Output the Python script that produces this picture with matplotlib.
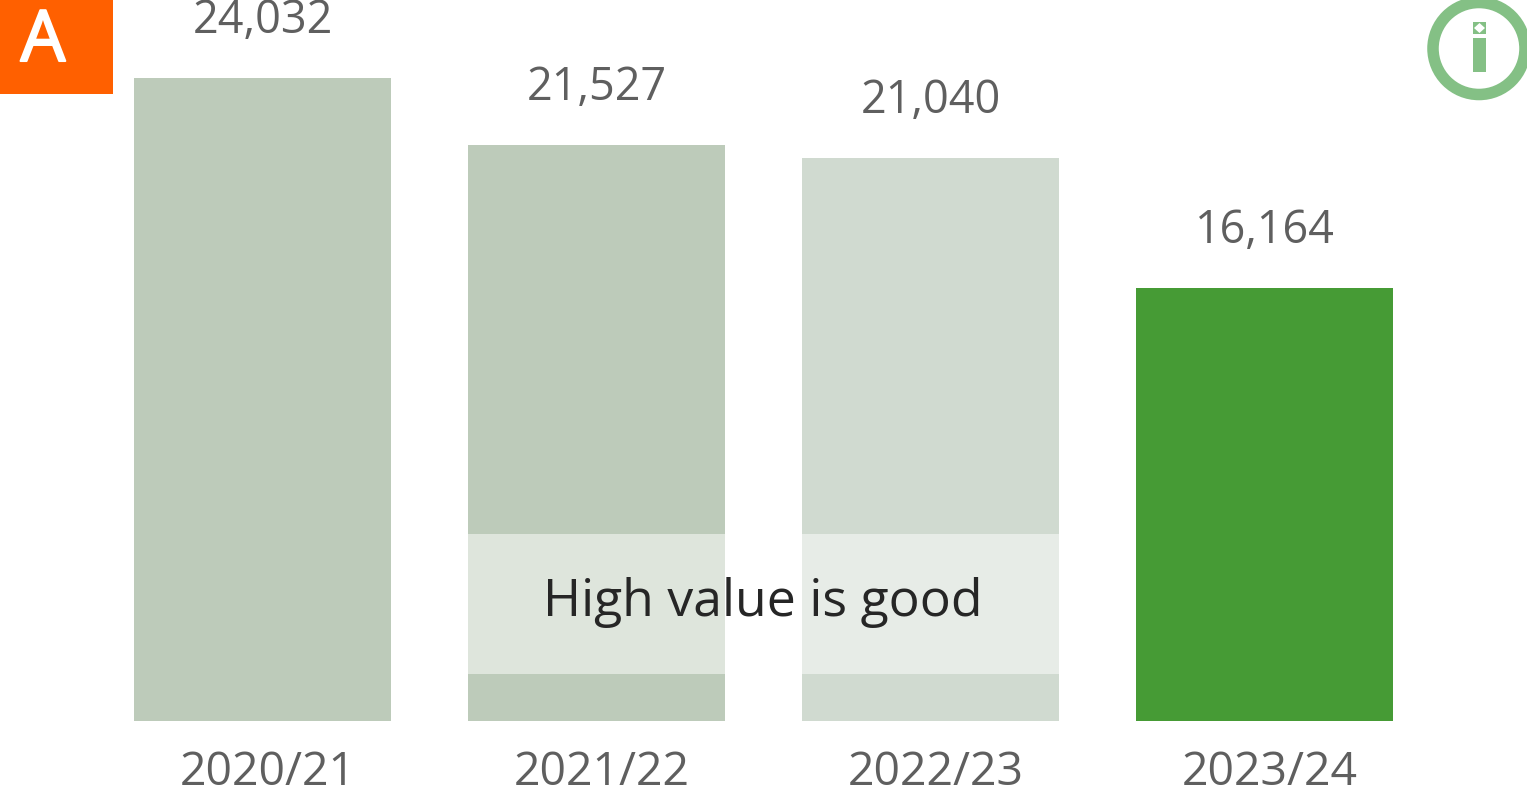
#!/usr/bin/python3
# -*- coding: utf-8 -*-

import matplotlib
matplotlib.use('Agg')
import matplotlib.pyplot as plt
import matplotlib.patheffects as pe
from matplotlib.patches import Circle, Polygon, Rectangle

years = ['2020/21', '2021/22', '2022/23', '2023/24']
values = [24032, 21527, 21040, 16164]
colors = ['#bdcbba', '#bdcbba', '#d0dad0', '#469b35']

plt.rcParams['font.family'] = ['Open Sans', 'DejaVu Sans']

W, H = 1527, 796


def main():
    fig = plt.figure(figsize=(W / 100, H / 100), dpi=100)

    # bars, axes runs from the figure top down to the baseline at 721px
    ax = fig.add_axes([0, 1 - 721 / H, 1, 721 / H])
    ax.bar(range(4), values, width=257 / 334, color=colors)
    ax.set_xlim(-262.5 / 334, (W - 262.5) / 334)
    ax.set_ylim(0, 26943)
    ax.axis('off')

    for i, v in enumerate(values):
        ax.annotate(f'{v:,}', (i, v), xytext=(0, 34), textcoords='offset pixels',
                    ha='center', va='bottom', fontsize=32.4, color='#5f5f5f',
                    annotation_clip=False)
        ax.annotate(years[i], (i, 0), xytext=(5, -75), textcoords='offset pixels',
                    ha='center', va='bottom', fontsize=33.4, color='#5f5f5f',
                    annotation_clip=False)

    # overlay in pixel coords for the badge, icon and note
    top = fig.add_axes([0, 0, 1, 1])
    top.set_xlim(0, W)
    top.set_ylim(H, 0)
    top.axis('off')
    top.patch.set_alpha(0)

    top.add_patch(Rectangle((468, 534), 591, 140, color='white', alpha=0.5, lw=0))
    top.text(763, 602, 'High value is good', ha='center', va='center',
             fontsize=37.3, color='#262626')

    top.add_patch(Rectangle((0, 0), 113, 94, color='#ff6000', lw=0))
    # the badge letter is a bit heavier than the regular weight
    top.text(43, 61, 'A', ha='center', va='baseline', fontsize=51, color='white',
             path_effects=[pe.withStroke(linewidth=1.5, foreground='white')])

    green = '#84c085'
    top.add_patch(Circle((1479, 48.5), 46, fill=False, ec=green, lw=8.3))
    top.add_patch(Rectangle((1473, 38), 13, 34, color=green, lw=0))
    top.add_patch(Rectangle((1473, 22), 13, 12, color=green, lw=0))
    top.add_patch(Polygon([(1479.5, 23), (1485, 28), (1479.5, 33), (1474, 28)],
                          color='white', lw=0))

    fig.savefig('out.png', dpi=100)


if __name__ == '__main__':
    main()
